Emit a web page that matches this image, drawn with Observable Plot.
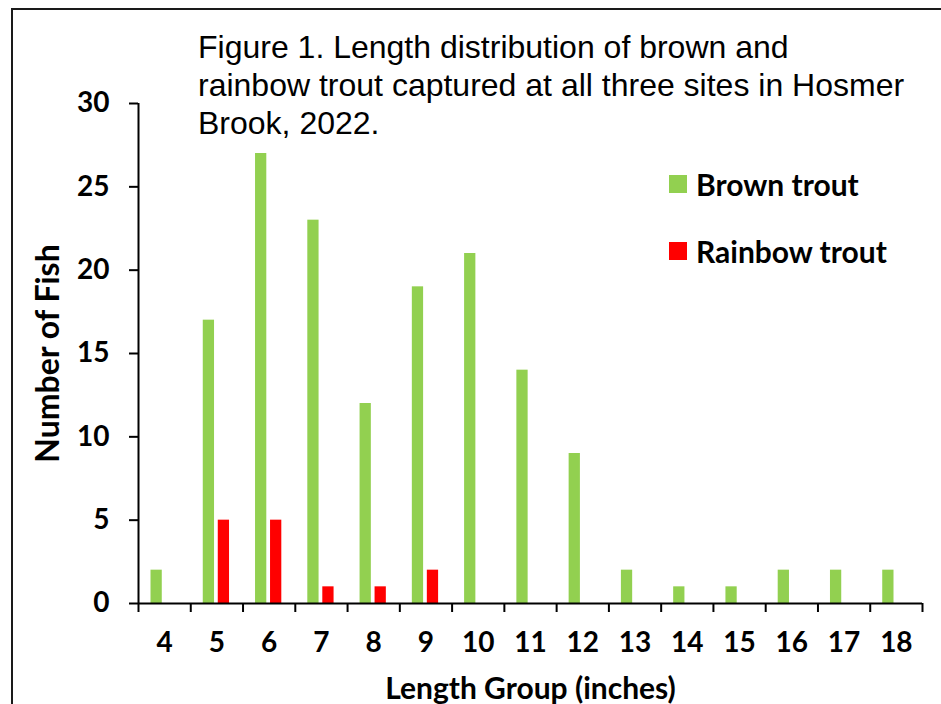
<!DOCTYPE html>
<html>
<head>
<meta charset="utf-8">
<script src="https://cdn.jsdelivr.net/npm/d3@7"></script>
<script src="https://cdn.jsdelivr.net/npm/@observablehq/plot@0.6"></script>
<style>
  html, body { margin: 0; padding: 0; background: #fff; overflow: hidden; }
  #wrap { position: relative; width: 941px; height: 704px; overflow: hidden; }
  #frame { position: absolute; left: 11px; top: 8px; width: 1000px; height: 800px; border: 2px solid #1a1a1a; box-sizing: border-box; pointer-events: none; }
  #title { position: absolute; left: 198px; top: 28px; font-family: "Liberation Sans", Arial, sans-serif; font-size: 32px; line-height: 38px; color: #000; white-space: nowrap; }
  .leg { position: absolute; left: 669px; display: flex; align-items: center; font-family: Lato, "Open Sans", sans-serif; font-weight: bold; font-size: 30px; color: #000; }
  .sw { width: 18px; height: 18px; margin-right: 9px; }
</style>
</head>
<body>
<div id="wrap">
  <div id="chart"></div>
  <div id="title">Figure 1. Length distribution of brown and<br>rainbow trout captured at all three sites in Hosmer<br>Brook, 2022.</div>
  <div class="leg" id="leg1" style="top:166px"><div class="sw" style="background:#92D050"></div>Brown trout</div>
  <div class="leg" id="leg2" style="top:233px"><div class="sw" style="background:#FF0000"></div>Rainbow trout</div>
  <div id="frame"></div>
</div>
<script>
const lengthGroups = [4, 5, 6, 7, 8, 9, 10, 11, 12, 13, 14, 15, 16, 17, 18];
const brownTrout   = [2, 17, 27, 23, 12, 19, 21, 14, 9, 2, 1, 1, 2, 2, 2];
const rainbowTrout = [0, 5, 5, 1, 1, 2, 0, 0, 0, 0, 0, 0, 0, 0, 0];
const yTicks = [0, 5, 10, 15, 20, 25, 30];

const brown = lengthGroups.map((g, i) => ({g, n: brownTrout[i]}));
const rainbow = lengthGroups.map((g, i) => ({g, n: rainbowTrout[i]}));
const boundaries = [...lengthGroups.map(g => g - 0.5), lengthGroups[lengthGroups.length - 1] + 0.5];

const chart = Plot.plot({
  width: 941,
  height: 704,
  marginLeft: 138,
  marginRight: 19,
  marginTop: 103,
  marginBottom: 101,
  style: {fontFamily: "Lato, 'Open Sans', sans-serif", fontSize: "28px", fontWeight: "bold", color: "#000", background: "transparent"},
  x: {domain: [boundaries[0], boundaries[boundaries.length - 1]]},
  y: {domain: [0, 30]},
  marks: [
    Plot.rectY(brown, {x1: d => d.g - 0.5, x2: d => d.g + 0.5, y: "n", fill: "#92D050", insetLeft: 12.5, insetRight: 28.5, filter: d => d.n > 0}),
    Plot.rectY(rainbow, {x1: d => d.g - 0.5, x2: d => d.g + 0.5, y: "n", fill: "#FF0000", insetLeft: 27.5, insetRight: 13.5, filter: d => d.n > 0}),
    Plot.axisY({ticks: yTicks, tickSize: 9, tickPadding: 20, strokeWidth: 2, label: null, fontSize: 28}),
    Plot.axisY({ticks: [], tickSize: 0, label: "Number of Fish", labelAnchor: "center", labelOffset: 102, labelArrow: "none", fontSize: 32}),
    Plot.axisX({ticks: boundaries, tickSize: 9, strokeWidth: 2, tickFormat: () => "", label: null}),
    Plot.axisX({ticks: lengthGroups, tickSize: 0, tickPadding: 29, label: null, fontSize: 28}),
    Plot.axisX({ticks: [], tickSize: 0, label: "Length Group (inches)", labelAnchor: "center", labelOffset: 95, labelArrow: "none", fontSize: 30}),
    Plot.ruleY([0], {strokeWidth: 2}),
    Plot.ruleX([boundaries[0]], {strokeWidth: 2})
  ]
});
document.getElementById("chart").appendChild(chart);
</script>
</body>
</html>
